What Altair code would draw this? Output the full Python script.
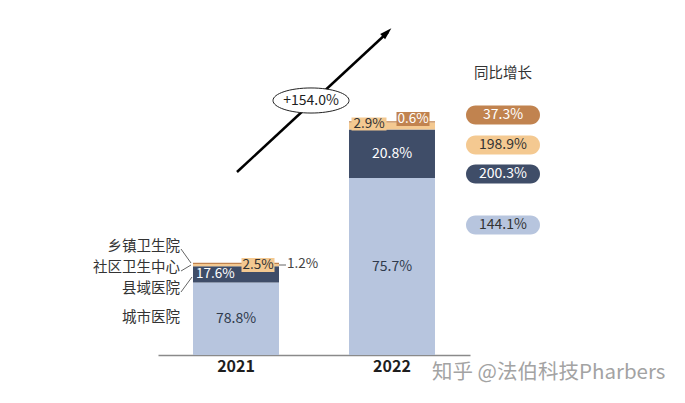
import altair as alt
import pandas as pd

# ---------------- data ----------------
years = ["2021", "2022"]
categories = ["城市医院", "县域医院", "社区卫生中心", "乡镇卫生院"]   # bottom -> top
share_2021 = [78.8, 17.6, 2.5, 1.2]
share_2022 = [75.7, 20.8, 2.9, 0.6]
total_index = [100.0, 254.0]            # 2022 = 2021 x (1 + 154.0%)
total_growth = "+154.0%"
legend_title = "同比增长"
yoy_labels = ["37.3%", "198.9%", "200.3%", "144.1%"]   # 乡镇, 社区, 县域, 城市
source_note = "知乎 @法伯科技Pharbers"

# ---------------- styles / layout ----------------
FONT = "Noto Sans CJK SC"
cat_colors = ["#b7c5de", "#3f4d68", "#f4c991", "#c1834f"]
cat_text = ["#2f3a4c", "#ffffff", "#333333", "#ffffff"]
OFF = 8  # page margin
W, H = 669, 347

shares = {"2021": share_2021, "2022": share_2022}
rows = []
for yi, yr in enumerate(years):
    start = 0.0
    for ci, cat in enumerate(categories):
        v = shares[yr][ci] * total_index[yi] / 100.0
        rows.append(dict(year=yr, cat=cat, share=shares[yr][ci], start=start,
                         end=start + v, mid=start + v / 2,
                         label=f"{shares[yr][ci]:.1f}%", tcolor=cat_text[ci]))
        start += v
bars_df = pd.DataFrame(rows)

xscale = alt.Scale(domain=years, range=[150, 462], paddingInner=0.4487, paddingOuter=0.2244)
yscale = alt.Scale(domain=[0, 377])

base = alt.Chart(bars_df)
bars = base.mark_bar().encode(
    x=alt.X("year:N", scale=xscale, axis=alt.Axis(
        title=None, labelFontWeight="bold", labelFontSize=16, labelColor="#1e1e1e",
        labelFont=FONT, domainColor="#8a8a8a", domainWidth=1.5, ticks=False,
        labelPadding=3, labelAngle=0)),
    y=alt.Y("start:Q", scale=yscale, axis=None),
    y2="end:Q",
    color=alt.Color("cat:N", scale=alt.Scale(domain=categories, range=cat_colors), legend=None),
)

big = bars_df[bars_df["cat"].isin(categories[:2])]
centered = big[~((big["year"] == "2021") & (big["cat"] == categories[1]))]
leftal = big[(big["year"] == "2021") & (big["cat"] == categories[1])]

seg_text_c = alt.Chart(centered).mark_text(font=FONT, fontSize=14).encode(
    x=alt.X("year:N", scale=xscale, axis=None),
    y=alt.Y("mid:Q", scale=yscale, axis=None),
    text="label:N",
    color=alt.Color("tcolor:N", scale=None),
)
seg_text_l = alt.Chart(leftal).mark_text(font=FONT, fontSize=13.5, align="left", dx=-40).encode(
    x=alt.X("year:N", scale=xscale, axis=None),
    y=alt.Y("mid:Q", scale=yscale, axis=None),
    text="label:N",
    color=alt.Color("tcolor:N", scale=None),
)

# ---------- pixel-positioned annotations (page coords, minus margin) ----------
def P(v):
    return v - OFF

# small label boxes on thin segments
box_layout = [  # (year idx, cat idx, cx, cy, w, h)
    (0, 2, 258, 265, 33, 14),
    (1, 2, 369, 124, 35, 13),
    (1, 3, 413, 119, 33, 14),
]
box_rows = []
for yi, ci, cx, cy, w, h in box_layout:
    box_rows.append(dict(x=P(cx - w / 2), x2=P(cx + w / 2), y=P(cy - h / 2), y2=P(cy + h / 2),
                         cx=P(cx), cy=P(cy), fill=cat_colors[ci], tcolor=cat_text[ci],
                         label=f"{shares[years[yi]][ci]:.1f}%"))
box_df = pd.DataFrame(box_rows)
boxes = alt.Chart(box_df).mark_rect().encode(
    x=alt.X("x:Q", scale=None, axis=None), x2="x2:Q",
    y=alt.Y("y:Q", scale=None, axis=None), y2="y2:Q",
    color=alt.Color("fill:N", scale=None),
)
box_text = alt.Chart(box_df).mark_text(font=FONT, fontSize=13.5).encode(
    x=alt.X("cx:Q", scale=None, axis=None),
    y=alt.Y("cy:Q", scale=None, axis=None),
    text="label:N",
    color=alt.Color("tcolor:N", scale=None),
)

# 1.2% outside label with dash
out_df = pd.DataFrame([dict(x=P(287), y=P(264), label=f"{share_2021[3]:.1f}%")])
out_text = alt.Chart(out_df).mark_text(font=FONT, fontSize=13.5, align="left", color="#444444").encode(
    x=alt.X("x:Q", scale=None, axis=None), y=alt.Y("y:Q", scale=None, axis=None), text="label:N")

# leader lines
lines_df = pd.DataFrame([
    dict(x=P(279), x2=P(286), y=P(265), y2=P(265)),
    dict(x=P(181), x2=P(191), y=P(249), y2=P(263)),
    dict(x=P(181), x2=P(191), y=P(271), y2=P(265)),
    dict(x=P(181), x2=P(192), y=P(292), y2=P(277)),
])
leaders = alt.Chart(lines_df).mark_rule(color="#666666", strokeWidth=1).encode(
    x=alt.X("x:Q", scale=None, axis=None), x2="x2:Q",
    y=alt.Y("y:Q", scale=None, axis=None), y2="y2:Q")

# category names on the left
cat_pos_y = [318, 289, 268, 247]
cat_df = pd.DataFrame([dict(x=P(180), y=P(cat_pos_y[i]), label=categories[i]) for i in range(4)])
cat_text_layer = alt.Chart(cat_df).mark_text(font=FONT, fontSize=14.5, align="right", color="#333333").encode(
    x=alt.X("x:Q", scale=None, axis=None), y=alt.Y("y:Q", scale=None, axis=None), text="label:N")

# growth arrow
arrow_df = pd.DataFrame([dict(x=P(237), y=P(172)), dict(x=P(388), y=P(32))])
arrow = alt.Chart(arrow_df).mark_line(color="#000000", strokeWidth=2.5).encode(
    x=alt.X("x:Q", scale=None, axis=None), y=alt.Y("y:Q", scale=None, axis=None))
head_df = pd.DataFrame([dict(x=P(387), y=P(32.5))])
head = alt.Chart(head_df).mark_point(
    shape="M1,0L-1,-0.6L-1,0.6Z", size=144, angle=316.5, filled=True, color="#000000", opacity=1
).encode(x=alt.X("x:Q", scale=None, axis=None), y=alt.Y("y:Q", scale=None, axis=None))

ell_df = pd.DataFrame([dict(x=P(311), y=P(100.5), label=total_growth)])
ellipse = alt.Chart(ell_df).mark_point(
    shape="M-1,0A1,0.33,0,1,1,1,0A1,0.33,0,1,1,-1,0Z", size=5776, filled=True,
    fill="#ffffff", stroke="#222222", strokeWidth=1, opacity=1
).encode(x=alt.X("x:Q", scale=None, axis=None), y=alt.Y("y:Q", scale=None, axis=None))
ell_text = alt.Chart(ell_df).mark_text(font=FONT, fontSize=14, color="#1e1e1e").encode(
    x=alt.X("x:Q", scale=None, axis=None), y=alt.Y("y:Q", scale=None, axis=None), text="label:N")

# YoY growth legend
pill_cy = [115, 145, 174, 225]
pill_order = [3, 2, 1, 0]   # category index for each pill
pill_rows = []
for i, ci in enumerate(pill_order):
    cy = pill_cy[i]
    pill_rows.append(dict(x=P(466), x2=P(540), y=P(cy - 9.5), y2=P(cy + 9.5), cx=P(503), cy=P(cy),
                          fill=cat_colors[ci], tcolor=("#333333" if ci in (0, 2) else "#ffffff"),
                          label=yoy_labels[i]))
pill_df = pd.DataFrame(pill_rows)
pills = alt.Chart(pill_df).mark_rect(cornerRadius=9.5).encode(
    x=alt.X("x:Q", scale=None, axis=None), x2="x2:Q",
    y=alt.Y("y:Q", scale=None, axis=None), y2="y2:Q",
    color=alt.Color("fill:N", scale=None),
)
pill_text = alt.Chart(pill_df).mark_text(font=FONT, fontSize=14).encode(
    x=alt.X("cx:Q", scale=None, axis=None), y=alt.Y("cy:Q", scale=None, axis=None),
    text="label:N", color=alt.Color("tcolor:N", scale=None))

title_df = pd.DataFrame([dict(x=P(503), y=P(74), label=legend_title)])
title_text = alt.Chart(title_df).mark_text(font=FONT, fontSize=14.5, color="#333333").encode(
    x=alt.X("x:Q", scale=None, axis=None), y=alt.Y("y:Q", scale=None, axis=None), text="label:N")

note_df = pd.DataFrame([dict(x=P(432), y=P(373), label=source_note)])
note_text = alt.Chart(note_df).mark_text(font=FONT, fontSize=20.5, align="left", color="#a3a3a3").encode(
    x=alt.X("x:Q", scale=None, axis=None), y=alt.Y("y:Q", scale=None, axis=None), text="label:N")

chart = alt.layer(
    bars, seg_text_c, seg_text_l, leaders, boxes, box_text, out_text, cat_text_layer,
    arrow, head, ellipse, ell_text, pills, pill_text, title_text, note_text,
).resolve_scale(
    x="independent", y="independent", color="independent"
).properties(
    width=W, height=H,
    padding={"left": 0, "top": 0, "right": 0, "bottom": 38},
    autosize=alt.AutoSizeParams(type="none"),
).configure_view(stroke=None)

chart.save("out.html", embed_options={"renderer": "svg", "actions": False})
